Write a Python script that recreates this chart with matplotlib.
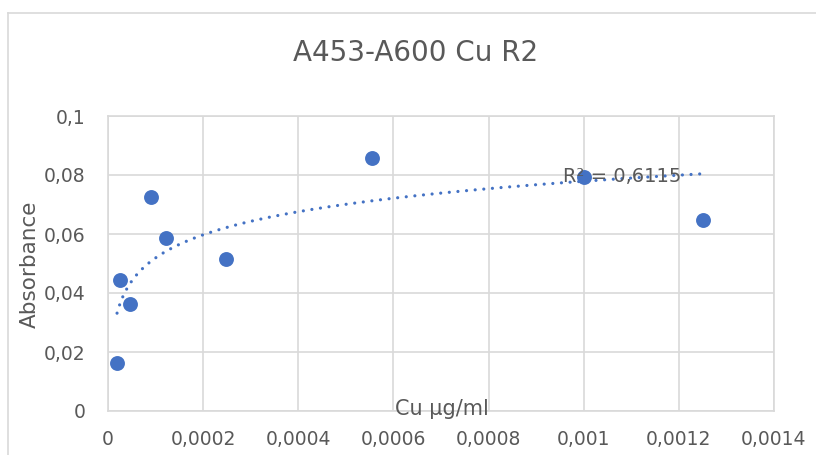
import numpy as np
import matplotlib
matplotlib.use("Agg")
import matplotlib.pyplot as plt
from matplotlib.lines import Line2D
from matplotlib.ticker import FuncFormatter

# Cu concentration (ug/ml) vs absorbance difference A453-A600
cu_conc = [0.000019, 0.0000253, 0.0000464, 0.0000907, 0.000122,
           0.000247, 0.000554, 0.001, 0.00125]
absorbance = [0.0163, 0.0444, 0.0363, 0.0725, 0.0586,
              0.0515, 0.0858, 0.0793, 0.0647]
x_ticks = [0, 0.0002, 0.0004, 0.0006, 0.0008, 0.001, 0.0012, 0.0014]
y_ticks = [0, 0.02, 0.04, 0.06, 0.08, 0.1]
r2_label = "R² = 0,6115"

BLUE = "#4472C4"
GRID = "#d9d9d9"
TEXT = "#595959"

plt.rcParams['font.family'] = ['DejaVu Sans']

W, H = 816, 455
fig = plt.figure(figsize=(W / 100, H / 100), dpi=100)
ax = fig.add_axes([108 / W, 1 - 411 / H, (774 - 108) / W, (411 - 116) / H])

# chart area frame: only left and top edges are in view
fy = 1 - 12.5 / H
fx = 7.5 / W
fig.lines.append(Line2D([fx, fx], [0, fy], transform=fig.transFigure,
                        color=GRID, linewidth=1.2))
fig.lines.append(Line2D([fx, 1], [fy, fy], transform=fig.transFigure,
                        color=GRID, linewidth=1.2))

ax.scatter(cu_conc, absorbance, s=115, color=BLUE, zorder=3, linewidths=0)

# logarithmic trendline y = a*ln(x) + b
a, b = np.polyfit(np.log(cu_conc), absorbance, 1)
xs = np.linspace(min(cu_conc), max(cu_conc), 400)
ax.plot(xs, a * np.log(xs) + b, color=BLUE, linewidth=2.3,
        linestyle=(0, (0.01, 2.7)), dash_capstyle='round', zorder=2)

ax.set_xlim(0, 0.0014)
ax.set_ylim(0, 0.1)
ax.set_xticks(x_ticks)
ax.set_yticks(y_ticks)
fmt = FuncFormatter(lambda v, p: ("%g" % v if v >= 0.001 or v == 0 else "%.4f" % v).replace(".", ","))
ax.xaxis.set_major_formatter(fmt)
ax.yaxis.set_major_formatter(FuncFormatter(lambda v, p: ("%g" % v).replace(".", ",")))
ax.tick_params(axis='x', length=0, pad=14, labelsize=13.5, labelcolor=TEXT)
ax.tick_params(axis='y', length=0, pad=16, labelsize=13.5, labelcolor=TEXT)

ax.grid(True, color=GRID, linewidth=1.2)
ax.set_axisbelow(True)
for sp in ax.spines.values():
    sp.set_color(GRID)
    sp.set_linewidth(1.2)

fig.text(416 / W, 1 - 53 / H, "A453-A600 Cu R2", ha='center', va='center',
         fontsize=20, color=TEXT)
fig.text(30 / W, 1 - 264 / H, "Absorbance", rotation=90, ha='center',
         va='center', fontsize=15.5, color=TEXT)
fig.text(442 / W, 1 - 409 / H, "Cu µg/ml", ha='center', va='center',
         fontsize=15, color=TEXT)
fig.text(622 / W, 1 - 176 / H, r2_label, ha='center', va='center',
         fontsize=14, color=TEXT, zorder=5)

fig.savefig("out.png", dpi=100)
